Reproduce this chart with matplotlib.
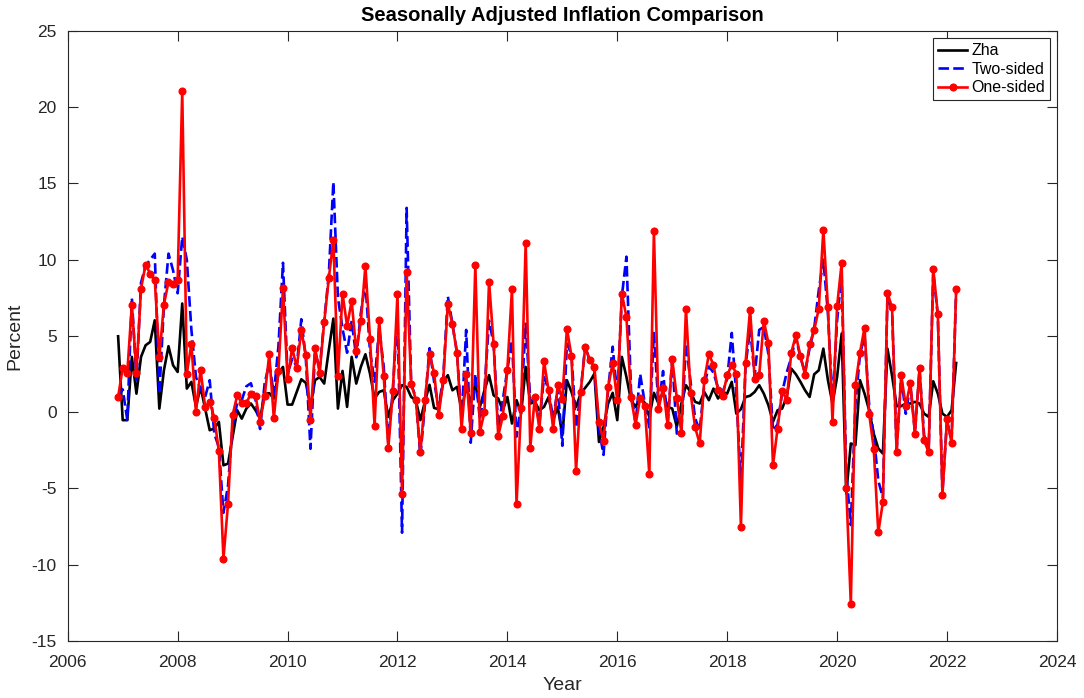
import numpy as np
import pandas as pd
import matplotlib
matplotlib.use('Agg')
import matplotlib.pyplot as plt

plt.rcParams['font.family'] = ['Liberation Sans', 'DejaVu Sans']
plt.rcParams['axes.unicode_minus'] = False

# monthly observations, Dec 2006 .. Mar 2022
months = pd.date_range('2006-12-01', '2022-03-01', freq='MS')
year_frac = months.year + (months.month - 1) / 12.0

zha = [
    4.98, -0.52, -0.52, 3.63, 1.22, 3.63, 4.39, 4.61, 6.03, 0.24,
    2.75, 4.33, 3.08, 2.64, 7.13, 1.55, 1.99, 0.35, 1.66, 0.24,
    -1.18, -1.07, -0.63, -3.48, -3.37, -1.62, 0.13, -0.42, 0.24, 0.57,
    0.13, -0.42, 1.20, 1.25, 0.90, 2.53, 2.97, 0.50, 0.50, 1.33,
    2.16, 1.92, 0.35, 2.10, 2.31, 1.88, 4.07, 6.14, 0.24, 2.71,
    0.35, 3.63, 1.88, 2.97, 3.80, 2.53, 0.90, 1.33, 1.44, -0.31,
    0.79, 1.22, 1.77, 1.66, 1.00, 0.79, -0.52, 0.70, 1.80, 0.28,
    0.20, 1.99, 2.43, 1.44, 1.66, 0.13, 1.66, 0.68, 1.84, 0.35,
    1.44, 2.43, 1.11, 0.90, 0.13, 1.00, -0.74, 0.79, -0.09, 2.97,
    0.57, 0.68, 0.13, 0.35, 1.00, -0.52, 0.35, -1.51, 2.10, 1.33,
    0.35, 1.22, 1.60, 1.99, 2.53, -1.95, -0.96, 0.57, 1.27, -0.52,
    3.63, 2.31, 0.79, 0.35, 1.00, 0.61, -0.31, 1.27, 0.57, 1.33,
    0.35, 0.24, -0.96, 0.57, 1.77, 1.33, 0.68, 0.57, 1.33, 0.79,
    1.55, 0.90, 1.33, 1.22, 1.99, -0.09, 0.20, 1.00, 1.08, 1.33,
    1.77, 1.22, 0.46, -0.63, 0.13, 0.24, 1.00, 2.86, 2.49, 1.99,
    1.44, 1.00, 2.49, 2.75, 4.17, 2.10, 0.57, 2.31, 5.16, -5.33,
    -2.05, -2.16, 2.10, 1.22, 0.13, -1.40, -2.38, -2.71, 4.17, 2.40,
    0.40, 0.40, 0.57, 0.57, 0.68, 0.57, -0.09, -0.31, 2.03, 1.22,
    -0.09, -0.31, 0.13, 3.23,
]

two_sided = [
    1.0, 1.5, -0.5, 7.5, 2.1, 8.5, 9.6, 10.0, 10.4, 1.2,
    7.0, 10.4, 9.3, 7.8, 11.5, 10.0, 5.4, 2.3, 1.5, 1.0,
    2.1, -1.4, -2.3, -6.6, -4.8, -0.9, 0.6, 0.8, 1.7, 1.9,
    0.8, -1.1, 1.9, 3.2, 1.2, 4.3, 9.8, 2.5, 3.5, 3.0,
    6.1, 3.5, -2.4, 4.0, 2.8, 6.0, 9.0, 15.1, 7.5, 5.5,
    3.9, 6.0, 3.6, 6.5, 8.5, 4.0, 2.0, 5.5, 3.0, -2.0,
    1.5, 6.5, -7.9, 13.4, 1.8, 1.0, -2.9, 0.5, 4.2, 2.0,
    0.3, 2.3, 7.6, 5.8, 3.9, -0.5, 5.4, -2.0, 2.5, -0.5,
    1.5, 6.0, 4.5, -1.0, 0.8, 2.8, 4.7, -1.6, 0.5, 5.8,
    0.8, 0.7, -0.7, 2.3, 1.5, -0.5, 1.6, -2.2, 4.5, 3.8,
    -1.0, 1.3, 4.4, 3.3, 2.8, -1.1, -2.8, 1.5, 4.3, 1.0,
    7.6, 10.2, 1.4, -0.7, 2.5, 0.6, -1.0, 5.2, 0.4, 2.7,
    -0.8, 3.5, -1.4, -1.3, 4.5, 2.0, -0.4, -1.2, 1.8, 3.0,
    2.6, 1.6, 1.3, 2.2, 5.2, 1.1, -4.7, 3.0, 5.5, 2.4,
    5.4, 5.6, 3.8, -1.2, -0.8, 1.3, 2.6, 3.6, 4.9, 3.6,
    2.6, 4.2, 5.5, 8.0, 10.0, 6.5, 0.5, 6.0, 9.0, -4.0,
    -7.4, 0.5, 3.8, 5.0, 0.5, -1.5, -4.5, -5.6, 7.6, 6.7,
    -2.5, 2.3, -0.1, 1.8, -1.3, 2.8, -1.5, -2.5, 9.2, 6.3,
    -5.3, -0.5, -1.9, 8.0,
]

one_sided = [
    1.00, 2.91, 2.60, 7.06, 2.60, 8.11, 9.68, 9.09, 8.70, 3.63,
    7.06, 8.55, 8.44, 8.70, 21.05, 2.53, 4.50, 0.02, 2.80, 0.35,
    0.68, -0.37, -2.56, -9.60, -5.99, -0.20, 1.11, 0.61, 0.61, 1.22,
    1.09, -0.63, 1.07, 3.80, -0.39, 2.71, 8.13, 2.16, 4.24, 2.91,
    5.38, 3.74, -0.48, 4.22, 2.58, 5.90, 8.77, 11.28, 2.36, 7.78,
    5.66, 7.30, 4.00, 5.95, 9.60, 4.83, -0.90, 6.05, 2.36, -2.36,
    1.40, 7.74, -5.33, 9.20, 1.88, 0.83, -2.62, 0.81, 3.82, 2.58,
    -0.20, 2.14, 7.13, 5.77, 3.89, -1.07, 2.53, -1.33, 9.64, -1.29,
    0.02, 8.57, 4.46, -1.55, -0.26, 2.80, 8.07, -6.03, 0.31, 11.13,
    -2.32, 1.00, -1.11, 3.34, 1.44, -1.07, 1.77, 0.90, 5.49, 3.67,
    -3.86, 1.31, 4.30, 3.41, 2.97, -0.63, -1.88, 1.66, 3.23, 0.79,
    7.78, 6.25, 1.00, -0.81, 0.96, 0.42, -4.07, 11.87, 0.20, 1.62,
    -0.81, 3.48, 0.94, -1.35, 6.80, 1.29, -1.00, -2.05, 2.10, 3.80,
    3.12, 1.44, 1.05, 2.43, 3.12, 2.53, -7.52, 3.23, 6.73, 2.21,
    2.47, 5.99, 4.55, -3.48, -1.07, 1.40, 0.79, 3.91, 5.05, 3.67,
    2.47, 4.46, 5.38, 6.80, 11.98, 6.87, -0.63, 6.95, 9.79, -4.94,
    -12.59, 1.77, 3.91, 5.55, -0.09, -2.38, -7.88, -5.89, 7.82, 6.87,
    -2.64, 2.43, 0.42, 1.92, -1.40, 2.91, -1.84, -2.64, 9.40, 6.43,
    -5.42, -0.46, -2.01, 8.05,
]

axis_gray = '#262626'

fig = plt.figure(figsize=(10.84, 6.98), dpi=100)
ax = fig.add_axes([0.0625, 0.0817, 0.9125, 0.8739])

ax.plot(year_frac, zha, color='black', linewidth=1.9, label='Zha')
ax.plot(year_frac, two_sided, color='#0000ff', linewidth=1.9,
        linestyle=(0, (4, 1.6)), label='Two-sided')
ax.plot(year_frac, one_sided, color='#ff0000', linewidth=1.9,
        marker='o', markersize=4.8, label='One-sided')

ax.set_xlim(2006, 2024)
ax.set_ylim(-15, 25)
ax.set_xticks(np.arange(2006, 2025, 2))
ax.set_yticks(np.arange(-15, 26, 5))

ax.tick_params(direction='in', length=7, width=0.8, top=True, right=True,
               labelsize=12.5, colors=axis_gray)
ax.tick_params(axis='x', pad=10)
ax.tick_params(axis='y', pad=8)
for side in ax.spines.values():
    side.set_color(axis_gray)
    side.set_linewidth(0.8)

ax.set_xlabel('Year', fontsize=14, color=axis_gray, labelpad=5)
ax.set_ylabel('Percent', fontsize=14, color=axis_gray, labelpad=6)
ax.set_title('Seasonally Adjusted Inflation Comparison', fontsize=14.5,
             fontweight='bold', pad=7)

leg = ax.legend(loc='upper right', bbox_to_anchor=(0.9689, 0.9451),
                bbox_transform=fig.transFigure, borderaxespad=0,
                fontsize=11.5, fancybox=False, framealpha=1,
                handlelength=1.8, handletextpad=0.3, labelspacing=0.22,
                borderpad=0.3)
leg.get_frame().set_edgecolor(axis_gray)
leg.get_frame().set_linewidth(0.8)

fig.savefig('out.png', dpi=100)
